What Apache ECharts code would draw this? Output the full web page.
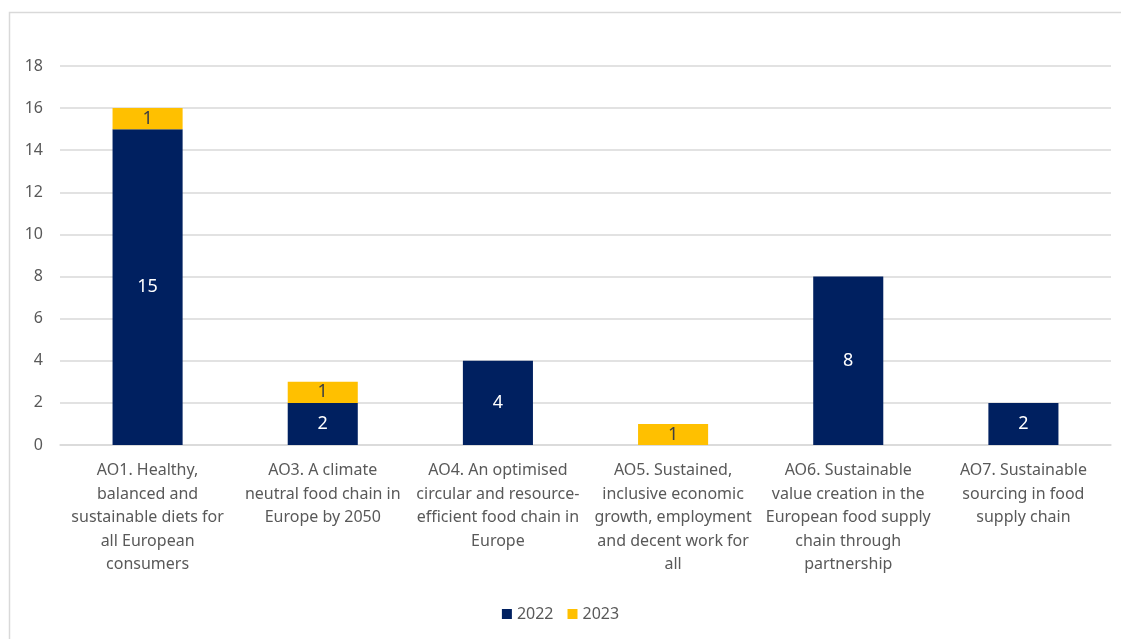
<!DOCTYPE html>
<html><head><meta charset="utf-8">
<script src="https://cdn.jsdelivr.net/npm/echarts@6/dist/echarts.min.js"></script>
<style>html,body{margin:0;padding:0;background:#fff}#c{width:1121px;height:639px}</style>
</head><body><div id="c"></div>
<script>
const categories = [
  "AO1. Healthy,\nbalanced and\nsustainable diets for\nall European\nconsumers",
  "AO3. A climate\nneutral food chain in\nEurope by 2050",
  "AO4. An optimised\ncircular and resource-\nefficient food chain in\nEurope",
  "AO5. Sustained,\ninclusive economic\ngrowth, employment\nand decent work for\nall",
  "AO6. Sustainable\nvalue creation in the\nEuropean food supply\nchain through\npartnership",
  "AO7. Sustainable\nsourcing in food\nsupply chain"
];
const values2022 = [15, 2, 4, null, 8, 2];
const values2023 = [1, 1, null, 1, null, null];
const yTicks = {min: 0, max: 18, interval: 2};

const font = "'Noto Sans', sans-serif";
const chart = echarts.init(document.getElementById('c'));
chart.setOption({
  animation: false,
  graphic: [{type: 'rect', shape: {x: 9.5, y: 12.5, width: 1130, height: 640}, style: {fill: 'none', stroke: '#d9d9d9', lineWidth: 1.5}, silent: true}],
  grid: {left: 60, right: 10, top: 66, bottom: 194, containLabel: false},
  legend: {
    bottom: 12, left: 'center', itemWidth: 10, itemHeight: 10, itemGap: 14,
    icon: 'rect',
    textStyle: {color: '#595959', fontSize: 16, fontFamily: font},
    data: ['2022', '2023']
  },
  xAxis: {
    type: 'category', data: categories,
    axisLine: {lineStyle: {color: '#d9d9d9', width: 1.5}},
    axisTick: {show: false},
    axisLabel: {color: '#595959', fontSize: 16, fontFamily: font, lineHeight: 23.5, margin: 14, interval: 0}
  },
  yAxis: {
    type: 'value', min: yTicks.min, max: yTicks.max, interval: yTicks.interval,
    axisLine: {show: false}, axisTick: {show: false},
    splitLine: {lineStyle: {color: '#d9d9d9', width: 1.5}},
    axisLabel: {color: '#595959', fontSize: 16, fontFamily: font, margin: 17}
  },
  series: [
    {name: '2022', type: 'bar', stack: 's', data: values2022, barWidth: '40%',
     itemStyle: {color: '#002060'},
     label: {show: true, position: 'inside', color: '#ffffff', fontSize: 18, fontFamily: font}},
    {name: '2023', type: 'bar', stack: 's', data: values2023, barWidth: '40%',
     itemStyle: {color: '#FFC000'},
     label: {show: true, position: 'inside', color: '#404040', fontSize: 18, fontFamily: font}}
  ]
});
</script></body></html>
